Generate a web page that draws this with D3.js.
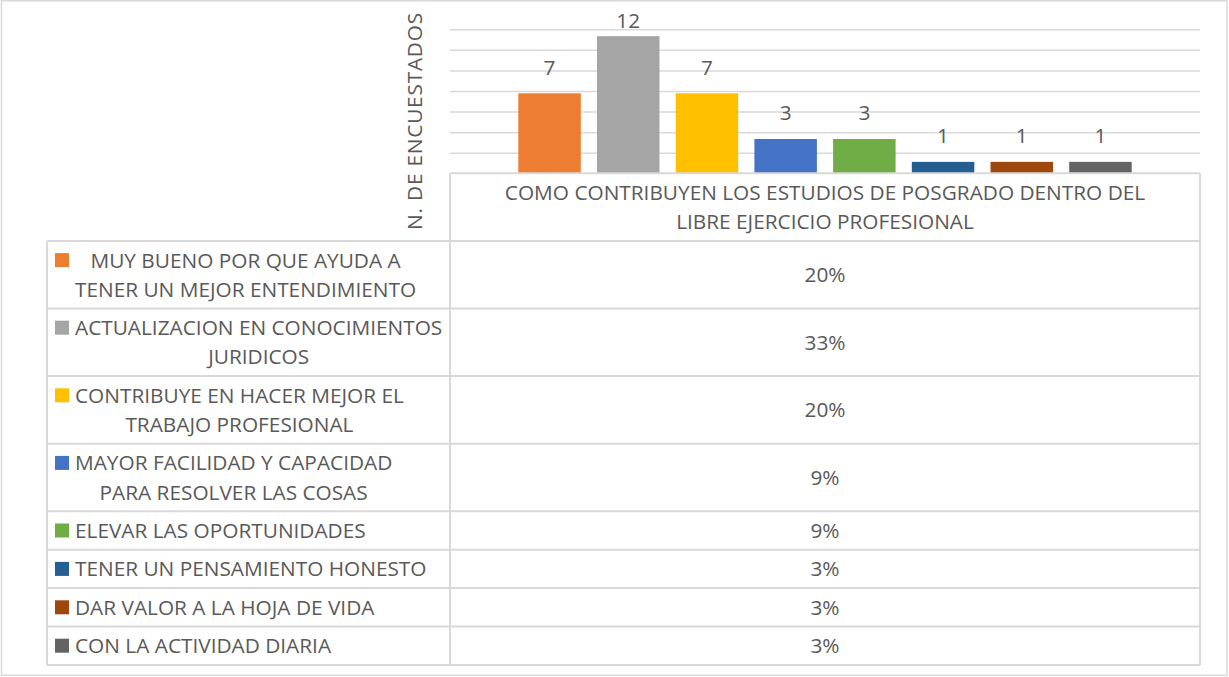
<!DOCTYPE html>
<html>
<head>
<meta charset="utf-8">
<script src="https://cdn.jsdelivr.net/npm/d3@7"></script>
<style>
  html, body { margin: 0; padding: 0; background: #fff; }
  #chart text { font-family: "Open Sans", sans-serif; fill: #595959; }
</style>
</head>
<body>
<svg id="chart" width="1229" height="677"></svg>
<script>
// ─── Data ───
const categories = [
  'MUY BUENO POR QUE AYUDA A TENER UN MEJOR ENTENDIMIENTO',
  'ACTUALIZACION EN CONOCIMIENTOS JURIDICOS',
  'CONTRIBUYE EN HACER MEJOR EL TRABAJO PROFESIONAL',
  'MAYOR FACILIDAD Y CAPACIDAD PARA RESOLVER LAS COSAS',
  'ELEVAR LAS OPORTUNIDADES',
  'TENER UN PENSAMIENTO HONESTO',
  'DAR VALOR A LA HOJA DE VIDA',
  'CON LA ACTIVIDAD DIARIA'
];
const counts = [7, 12, 7, 3, 3, 1, 1, 1];
const percentLabels = ['20%', '33%', '20%', '9%', '9%', '3%', '3%', '3%'];
const seriesColors = ['#ED7D31', '#A5A5A5', '#FFC000', '#4472C4', '#70AD47', '#255E91', '#9E480E', '#636363'];
const groupLabel = 'COMO CONTRIBUYEN LOS ESTUDIOS DE POSGRADO DENTRO DEL LIBRE EJERCICIO PROFESIONAL';
const axisTitle = 'N. DE ENCUESTADOS';
const yMax = 12.6;
const gridStep = 1.8;

(function () {
  const plot = { left: 450, right: 1200, top: 29.3, bottom: 173.3 };
  const tableLeft = 47;
  const fontSize = 20.8, lineH = 29.2, rowPad = 9.2;
  const lineColor = '#d9d9d9';
  const capMid = 0.357 * fontSize; // baseline offset from cap centre

  const svg = d3.select('#chart');

  // outer frame
  svg.append('rect')
    .attr('x', 1.5).attr('y', 0.75).attr('width', 1225.5).attr('height', 674.5)
    .attr('fill', 'none').attr('stroke', lineColor).attr('stroke-width', 1.5);

  const x = d3.scaleBand().domain(categories)
    .range([plot.left, plot.right]).paddingInner(0.206).paddingOuter(0.868);
  const y = d3.scaleLinear().domain([0, yMax]).range([plot.bottom, plot.top]);

  // gridlines
  const gridTicks = d3.range(gridStep, yMax + 0.001, gridStep);
  const grid = svg.append('g')
    .attr('transform', `translate(${plot.left},0)`)
    .call(d3.axisLeft(y).tickValues(gridTicks).tickSize(-(plot.right - plot.left)).tickFormat(''));
  grid.select('.domain').remove();
  grid.selectAll('.tick line').attr('stroke', lineColor).attr('stroke-width', 1.5);

  // bars
  svg.append('g').selectAll('rect')
    .data(categories).join('rect')
    .attr('x', d => x(d))
    .attr('y', (d, i) => y(counts[i]))
    .attr('width', x.bandwidth())
    .attr('height', (d, i) => y(0) - y(counts[i]))
    .attr('fill', (d, i) => seriesColors[i]);

  // value labels (kept inside the chart area at the top)
  svg.append('g').selectAll('text')
    .data(categories).join('text')
    .attr('x', d => x(d) + x.bandwidth() / 2)
    .attr('y', (d, i) => Math.max(y(counts[i]) - 26, 20.7) + capMid)
    .attr('text-anchor', 'middle')
    .attr('font-size', fontSize)
    .text((d, i) => counts[i]);

  // axis title
  svg.append('text')
    .attr('transform', `translate(${415 + capMid},121) rotate(-90)`)
    .attr('text-anchor', 'middle')
    .attr('font-size', fontSize)
    .attr('letter-spacing', 0.8)
    .text(axisTitle);

  // text wrapping helper
  const probe = svg.append('text').attr('font-size', fontSize).attr('visibility', 'hidden');
  function measure(s) { probe.text(s); return probe.node().getComputedTextLength(); }
  function wrap(s, maxW) {
    const words = s.split(' ');
    const lines = [];
    let cur = '';
    words.forEach(w => {
      const next = cur ? cur + ' ' + w : w;
      if (cur && measure(next) > maxW) { lines.push(cur); cur = w; } else cur = next;
    });
    if (cur) lines.push(cur);
    return lines;
  }

  // data table
  const table = svg.append('g');
  const headerLines = wrap(groupLabel, 670);
  const headerBottom = plot.bottom + headerLines.length * lineH + rowPad;

  headerLines.forEach((l, j) => {
    table.append('text')
      .attr('x', (plot.left + plot.right) / 2)
      .attr('y', plot.bottom + rowPad / 2 + lineH / 2 + j * lineH + capMid)
      .attr('text-anchor', 'middle')
      .attr('font-size', fontSize)
      .text(l);
  });

  const rowEdges = [headerBottom];
  let top = headerBottom;
  categories.forEach((c, i) => {
    const lines = wrap(c, 370);
    const h = lines.length * lineH + rowPad;
    const firstMid = top + rowPad / 2 + lineH / 2;
    const widths = lines.map(measure);
    const blockW = d3.max(widths);

    table.append('rect')
      .attr('x', 55).attr('y', firstMid - 7).attr('width', 14).attr('height', 14)
      .attr('fill', seriesColors[i]);

    lines.forEach((l, j) => {
      table.append('text')
        .attr('x', 75 + blockW / 2)
        .attr('y', firstMid + j * lineH + capMid)
        .attr('text-anchor', 'middle')
        .attr('font-size', fontSize)
        .text(l);
    });

    table.append('text')
      .attr('x', (plot.left + plot.right) / 2)
      .attr('y', top + h / 2 + capMid)
      .attr('text-anchor', 'middle')
      .attr('font-size', fontSize)
      .text(percentLabels[i]);

    top += h;
    rowEdges.push(top);
  });
  probe.remove();

  // table borders
  const borders = table.append('g').attr('stroke', lineColor).attr('stroke-width', 2);
  borders.append('line').attr('x1', plot.left).attr('x2', plot.right).attr('y1', plot.bottom).attr('y2', plot.bottom);
  rowEdges.forEach(e => {
    borders.append('line').attr('x1', tableLeft).attr('x2', plot.right).attr('y1', e).attr('y2', e);
  });
  borders.append('line').attr('x1', tableLeft).attr('x2', tableLeft).attr('y1', headerBottom).attr('y2', top);
  borders.append('line').attr('x1', plot.left).attr('x2', plot.left).attr('y1', plot.bottom).attr('y2', top);
  borders.append('line').attr('x1', plot.right).attr('x2', plot.right).attr('y1', plot.bottom).attr('y2', top);
})();
</script>
</body>
</html>
